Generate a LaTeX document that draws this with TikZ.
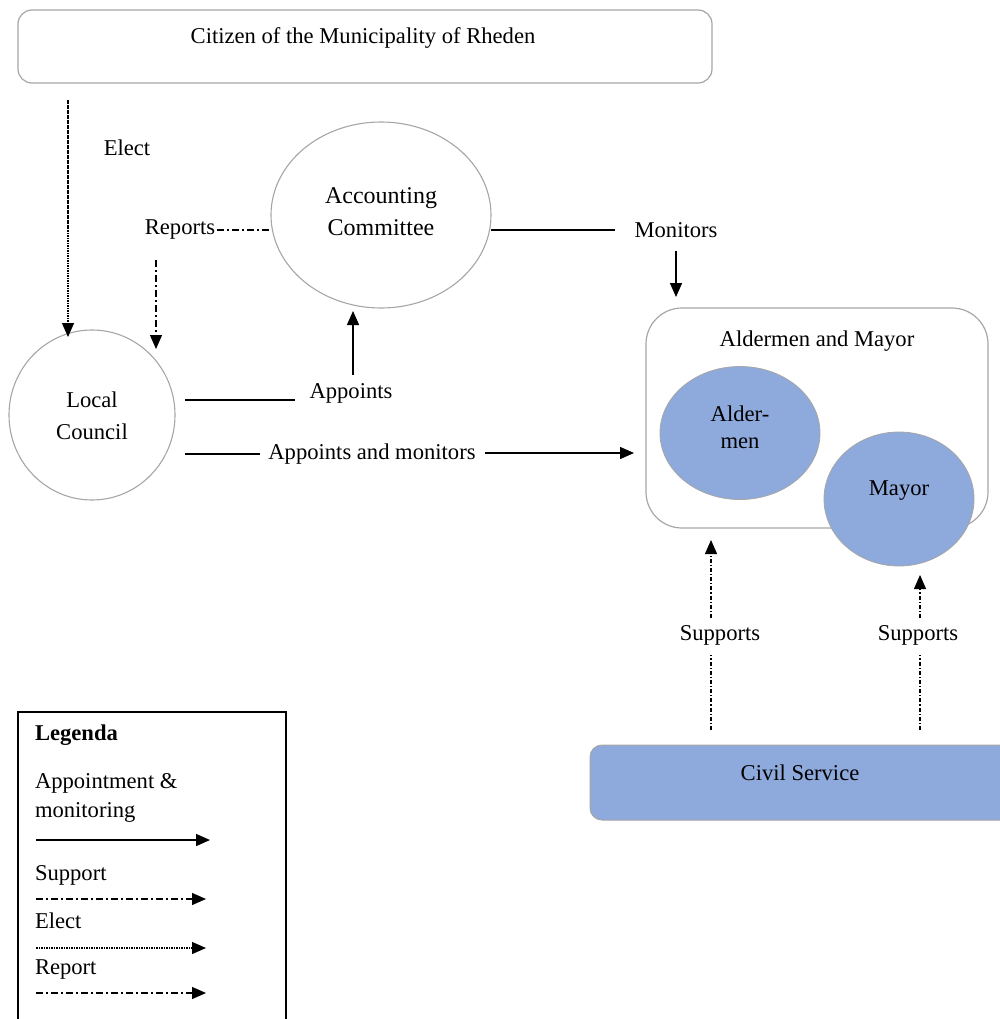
\documentclass[tikz,border=0pt]{standalone}
\usepackage{fontspec}
\setmainfont{Liberation Serif}
\newfontfamily\tnr{Liberation Serif}
\usetikzlibrary{shapes.geometric,arrows.meta}
\definecolor{boxblue}{HTML}{8EA9DB}
\definecolor{edgegray}{HTML}{A6A6A6}
\begin{document}
\begin{tikzpicture}[x=1pt,y=-1pt,
  every node/.style={font=\tnr\fontsize{22.6}{27}\selectfont, inner sep=0pt, outer sep=0pt},
  rbox/.style={draw=edgegray, line width=1.2pt, rounded corners=14pt},
  ell/.style={ellipse, draw=edgegray, line width=1.1pt, align=center},
  blueell/.style={ellipse, draw=edgegray, line width=0.8pt, fill=boxblue, align=center},
  tip/.style={-{Triangle[length=14pt,width=12pt]}},
  conn/.style={line width=1.4pt, black},
  solidarr/.style={conn, tip},
  electline/.style={conn, line width=1.2pt, dash pattern=on 1.6pt off 0.9pt},
  reportline/.style={conn, line width=1.2pt, dash pattern=on 7pt off 3pt on 2pt off 3pt},
  supportline/.style={conn, line width=1.2pt, dash pattern=on 4pt off 2pt on 1.2pt off 2pt}
]
\useasboundingbox (0,0) rectangle (1000,1019);
\clip (0,0) rectangle (1000,1019);

% top box
\node[rbox, minimum width=694pt, minimum height=73pt] (cit) at (365,46.5) {};
\node (citl) at (363,38) {Citizen of the Municipality of Rheden};

% ellipses
\node[ell, minimum width=220pt, minimum height=186pt] (ac) at (381,215) {};
\node[align=center, font=\tnr\fontsize{24}{32}\selectfont] (acl) at (381,212) {Accounting\\Committee};
\node[ell, minimum width=166pt, minimum height=170pt] (lc) at (92,415) {};
\node[align=center, font=\tnr\fontsize{22.6}{32}\selectfont] (lcl) at (92,416) {Local\\Council};

% Aldermen and Mayor box
\node[rbox, rounded corners=36pt, minimum width=342pt, minimum height=220pt] (amb) at (817,418) {};
\node (ambl) at (817,341) {Aldermen and Mayor};
\node[blueell, minimum width=160pt, minimum height=133pt] (ald) at (740,433) {};
\node[align=center, font=\tnr\fontsize{22.6}{27}\selectfont] (aldl) at (740,427) {Alder-\\men};
\node[blueell, minimum width=150pt, minimum height=134pt] (may) at (899,499) {};
\node (mayl) at (899,491) {Mayor};

% civil service
\node[rbox, draw=edgegray, line width=1pt, fill=boxblue, rounded corners=12pt, minimum width=430pt, minimum height=75pt] (cs) at (805,782.5) {};
\node (csl) at (800,773) {Civil Service};

% labels
\node (elect) at (127,148) {Elect};
\node (rep) at (180,230) {Reports};
\node (mon) at (676,230) {Monitors};
\node (app) at (351,393) {Appoints};
\node (am) at (372,454) {Appoints and monitors};
\node (sup1) at (720,635) {Supports};
\node (sup2) at (918,635) {Supports};

% coordinates for free ends
\coordinate (e1) at (68,100);
\coordinate (e2) at (68,337);
\coordinate (r1) at (156,260);
\coordinate (r2) at (156,349);
\coordinate (a1) at (185,400);
\coordinate (a1e) at (295,400);
\coordinate (a2) at (353,375);
\coordinate (a3) at (353,311);
\coordinate (m1) at (185,454);
\coordinate (m2) at (485,453);
\coordinate (m3) at (634,453);
\coordinate (n1) at (676,251);
\coordinate (n2) at (676,297);
\coordinate (s1a) at (711,730);
\coordinate (s1b) at (711,655);
\coordinate (s1c) at (711,618);
\coordinate (s1d) at (711,540);
\coordinate (s2a) at (920,730);
\coordinate (s2b) at (920,655);
\coordinate (s2c) at (920,618);
\coordinate (s2d) at (920,575);

% connectors
\draw[electline, tip] (e1) -- (e2);
\draw[reportline] ([xshift=2pt]rep.east) -- (rep.east -| ac.west);
\draw[reportline, tip] (r1) -- (r2);
\draw[conn] (a1) -- (a1e);
\draw[solidarr] (a2) -- (a3);
\draw[conn] (m1) -- ([xshift=-8pt]am.west);
\draw[solidarr] (m2) -- (m3);
\draw[conn] (ac.east |- mon.west) -- ([xshift=-20pt]mon.west);
\draw[solidarr] (n1) -- (n2);
\draw[supportline] (s1a) -- (s1b);
\draw[supportline, tip] (s1c) -- (s1d);
\draw[supportline] (s2a) -- (s2b);
\draw[supportline, tip] (s2c) -- (s2d);

% legend
\node[draw=black, line width=1.2pt, minimum width=268pt, minimum height=340pt, anchor=north west] (leg) at (18,712) {};
\node[anchor=west, font=\tnr\fontsize{22.6}{27}\selectfont\bfseries] (lt) at (35,735) {Legenda};
\node[anchor=west] (l1) at (35,783) {Appointment \&};
\node[anchor=west] (l1b) at (35,812) {monitoring};
\node[anchor=west] (l2) at (35,875) {Support};
\node[anchor=west] (l3) at (35,921) {Elect};
\node[anchor=west] (l4) at (35,969) {Report};
\coordinate (la1) at (36,840); \coordinate (la2) at (210,840);
\coordinate (lb1) at (36,899); \coordinate (lb2) at (206,899);
\coordinate (lc1) at (36,948); \coordinate (lc2) at (206,948);
\coordinate (ld1) at (36,993); \coordinate (ld2) at (206,993);
\draw[solidarr] (la1) -- (la2);
\draw[reportline, tip] (lb1) -- (lb2);
\draw[electline, tip] (lc1) -- (lc2);
\draw[reportline, tip] (ld1) -- (ld2);
\end{tikzpicture}
\end{document}
